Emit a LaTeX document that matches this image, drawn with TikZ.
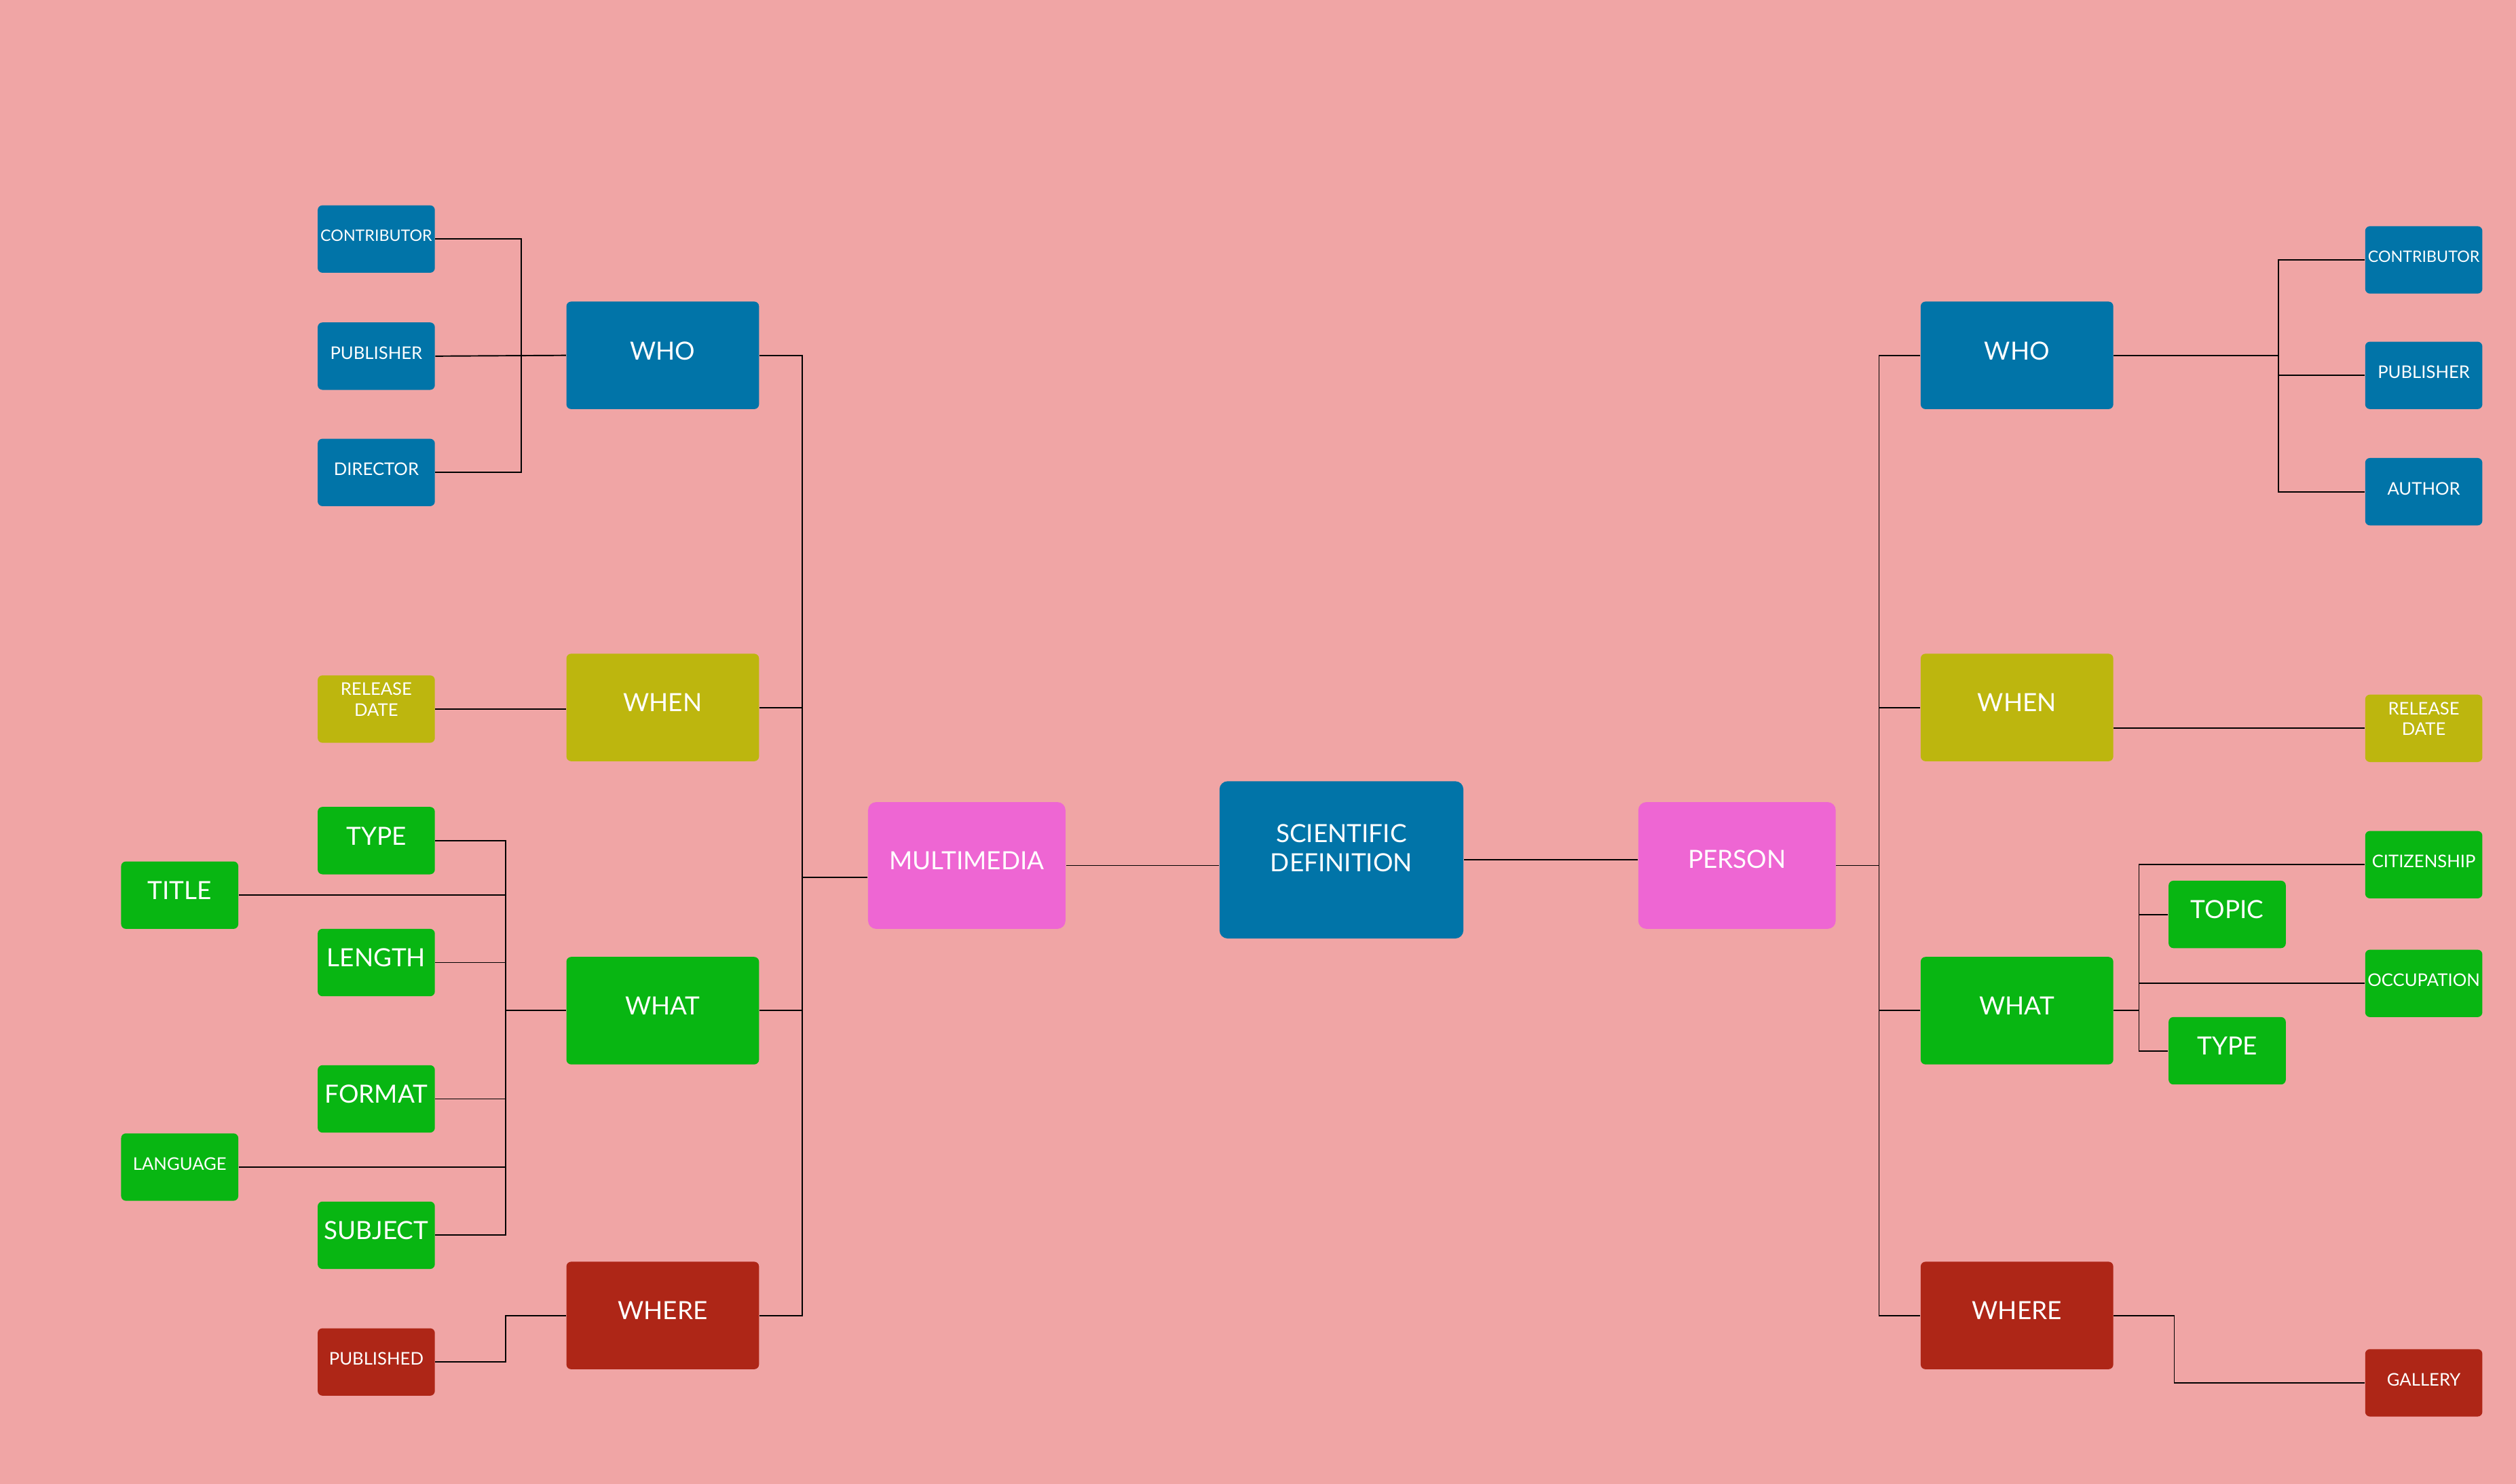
\documentclass[tikz,border=0pt]{standalone}
\usepackage{fontspec}
\setmainfont{Lato}
\usetikzlibrary{positioning}

\definecolor{bgpink}{RGB}{240,165,165}
\definecolor{whoblue}{RGB}{1,116,168}
\definecolor{whenolive}{RGB}{189,182,14}
\definecolor{whatgreen}{RGB}{8,182,18}
\definecolor{wherered}{RGB}{174,38,23}
\definecolor{hubpink}{RGB}{238,102,211}

\begin{document}
\begin{tikzpicture}[x=0.02364cm,y=-0.02364cm,
    box/.style ={rectangle, rounded corners=0.07cm, text=white, inner sep=0pt, align=center},
    leaf/.style ={box, minimum width=1.726cm, minimum height=0.993cm, text depth=2.7pt, font=\fontsize{7.3}{8.7}\selectfont},
    bigleaf/.style ={leaf, text depth=4pt, font=\fontsize{10.5}{12.5}\selectfont},
    branch/.style ={box, minimum width=2.837cm, minimum height=1.584cm, text depth=4pt, font=\fontsize{10.5}{12.5}\selectfont},
    hub/.style ={box, rounded corners=0.12cm, fill=hubpink, minimum width=2.908cm, minimum height=1.868cm, text depth=4pt, font=\fontsize{10.5}{12.5}\selectfont},
    link/.style ={line width=0.55pt}]
   \fill[bgpink] (0,0) rectangle (1568,925);

   % centre
   \node[box,fill=whoblue,rounded corners=0.12cm,minimum width=3.593cm,minimum height=2.317cm,text depth=10pt,
         font=\fontsize{10.5}{12.1}\selectfont] (sci) at (836,536) {SCIENTIFIC\\DEFINITION};
   \node[hub] (mm) at (602.5,539.5) {MULTIMEDIA};
   \node[hub,text depth=5.5pt] (person) at (1082.5,539.5) {PERSON};

   % multimedia side
   \node[branch,fill=whoblue] (whoL) at (413,221.5) {WHO};
   \node[branch,fill=whenolive] (whenL) at (413,441) {WHEN};
   \node[branch,fill=whatgreen] (whatL) at (413,630) {WHAT};
   \node[branch,fill=wherered] (whereL) at (413,820) {WHERE};

   \node[leaf,fill=whoblue,font=\fontsize{6.6}{8}\selectfont] (cntL) at (234.5,149) {CONTRIBUTOR};
   \node[leaf,fill=whoblue] (pubL) at (234.5,222) {PUBLISHER};
   \node[leaf,fill=whoblue] (dirL) at (234.5,294.5) {DIRECTOR};
   \node[leaf,fill=whenolive,text depth=8pt] (relL) at (234.5,442) {RELEASE\\DATE};
   \node[bigleaf,fill=whatgreen] (typeL) at (234.5,524) {TYPE};
   \node[bigleaf,fill=whatgreen] (titleL) at (112,558) {TITLE};
   \node[bigleaf,fill=whatgreen] (lenL) at (234.5,600) {LENGTH};
   \node[bigleaf,fill=whatgreen] (fmtL) at (234.5,685) {FORMAT};
   \node[leaf,fill=whatgreen] (langL) at (112,727.5) {LANGUAGE};
   \node[bigleaf,fill=whatgreen] (subjL) at (234.5,770) {SUBJECT};
   \node[leaf,fill=wherered] (pubdL) at (234.5,849) {PUBLISHED};

   % person side
   \node[branch,fill=whoblue] (whoR) at (1257,221.5) {WHO};
   \node[branch,fill=whenolive] (whenR) at (1257,441) {WHEN};
   \node[branch,fill=whatgreen] (whatR) at (1257,630) {WHAT};
   \node[branch,fill=wherered] (whereR) at (1257,820) {WHERE};

   \node[leaf,fill=whoblue,font=\fontsize{6.6}{8}\selectfont] (cntR) at (1510.5,162) {CONTRIBUTOR};
   \node[leaf,fill=whoblue] (pubR) at (1510.5,234) {PUBLISHER};
   \node[leaf,fill=whoblue] (autR) at (1510.5,306.5) {AUTHOR};
   \node[leaf,fill=whenolive,text depth=8pt] (relR) at (1510.5,454) {RELEASE\\DATE};
   \node[leaf,fill=whatgreen] (citR) at (1510.5,539) {CITIZENSHIP};
   \node[bigleaf,fill=whatgreen] (topicR) at (1388,570) {TOPIC};
   \node[leaf,fill=whatgreen] (occR) at (1510.5,613) {OCCUPATION};
   \node[bigleaf,fill=whatgreen] (typeR) at (1388,655) {TYPE};
   \node[leaf,fill=wherered] (galR) at (1510.5,862) {GALLERY};

   \coordinate (trunkL) at (500,547);
   \coordinate (whoLbar) at (325,222);
   \coordinate (whatLbar) at (315,630);
   \coordinate (whereLbar) at (315,835);
   \coordinate (trunkR) at (1171,540);
   \coordinate (whoRbar) at (1420,234);
   \coordinate (whatRbar) at (1333,600);
   \coordinate (whereRbar) at (1355,840);

   \draw[link] (mm.east) -- (mm.east -| sci.west);
   \draw[link] (sci.east) -- (sci.east -| person.west);

   \draw[link] (whoL.east) -| (trunkL) |- (whereL.east);
   \draw[link] (whenL.east) -- (whenL.east -| trunkL);
   \draw[link] (whatL.east) -- (whatL.east -| trunkL);
   \draw[link] (trunkL) -- (trunkL -| mm.west);

   \draw[link] (cntL.east) -| (whoLbar) |- (dirL.east);
   \draw[link] (pubL.east) -- (whoL.west);
   \draw[link] (relL.east) -- (relL.east -| whenL.west);
   \draw[link] (typeL.east) -| (whatLbar) |- (subjL.east);
   \draw[link] (titleL.east) -- (titleL.east -| whatLbar);
   \draw[link] (lenL.east) -- (lenL.east -| whatLbar);
   \draw[link] (fmtL.east) -- (fmtL.east -| whatLbar);
   \draw[link] (langL.east) -- (langL.east -| whatLbar);
   \draw[link] (whatLbar) -- (whatL.west);
   \draw[link] (whereL.west) -| (whereLbar) |- (pubdL.east);

   \draw[link] (person.east) -- (person.east -| trunkR);
   \draw[link] (whoR.west) -| (trunkR) |- (whereR.west);
   \draw[link] (whenR.west) -- (whenR.west -| trunkR);
   \draw[link] (whatR.west) -- (whatR.west -| trunkR);

   \draw[link] (cntR.west) -| (whoRbar) |- (autR.west);
   \draw[link] (pubR.west) -- (pubR.west -| whoRbar);
   \draw[link] (whoR.east) -- (whoR.east -| whoRbar);
   \draw[link] (whenR.east |- relR.west) -- (relR.west);
   \draw[link] (citR.west) -| (whatRbar) |- (typeR.west);
   \draw[link] (topicR.west) -- (topicR.west -| whatRbar);
   \draw[link] (occR.west) -- (occR.west -| whatRbar);
   \draw[link] (whatR.east) -- (whatR.east -| whatRbar);
   \draw[link] (whereR.east) -| (whereRbar) |- (galR.west);
\end{tikzpicture}
\end{document}
